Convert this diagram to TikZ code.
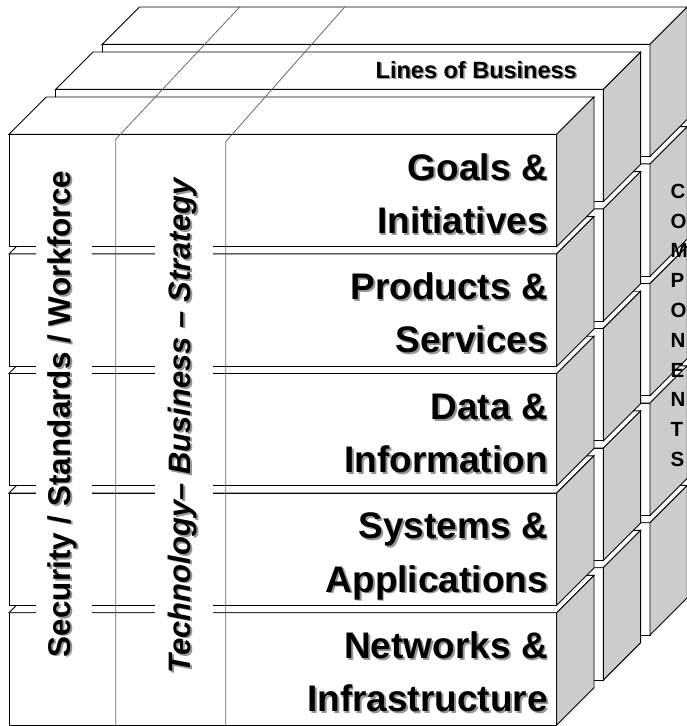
\documentclass[tikz,border=0pt]{standalone}
\usepackage{fontspec}
\setmainfont{Liberation Sans}
\definecolor{sidegray}{RGB}{204,204,204}
\definecolor{shadowgray}{RGB}{150,150,150}
\definecolor{divgray}{RGB}{105,105,105}
\def\BW{547.7}
\def\BH{112.3}
\def\BD{37.3}
\newcommand{\drawcube}[2]{%
  \filldraw[edge, fill=white] (#1,#2) rectangle ++(\BW,\BH);
  \filldraw[edge, fill=white] (#1,#2) -- ++(\BD,-\BD) -- ++(\BW,0) -- ++(-\BD,\BD) -- cycle;
  \filldraw[edge, fill=sidegray] (#1+\BW,#2) -- ++(\BD,-\BD) -- ++(0,\BH) -- ++(-\BD,\BD) -- cycle;
}
\begin{document}
\begin{tikzpicture}[x=1pt,y=-1pt,
  edge/.style={draw=black, line width=0.9pt},
  divline/.style={draw=divgray, line width=0.8pt},
  bigtxt/.style={font=\bfseries\fontsize{37}{40}\selectfont, inner sep=0pt, anchor=base east},
  lob/.style={font=\bfseries\fontsize{23.5}{26}\selectfont, inner sep=0pt, anchor=base east},
  rot/.style={rotate=90, anchor=base, inner xsep=3pt, inner ysep=0pt},
  comp/.style={font=\bfseries\fontsize{20.5}{24}\selectfont, inner sep=0pt, anchor=base west}]
\useasboundingbox (0,0) rectangle (687,726);
% cubes, back to front, bottom to top
\foreach \L in {2,1,0}{
  \foreach \k in {4,3,2,1,0}{
    \pgfmathsetmacro\xx{9+46.65*\L}
    \pgfmathsetmacro\yy{134.3-45*\L+119.6*\k}
    \drawcube{\xx}{\yy}
  }
}
% dividing lines
\draw[divline] (240,6.7) -- (115.7,139.3) -- (115.7,725);
\draw[divline] (345,6.7) -- (225.7,141.7) -- (225.7,725);
% Lines of Business
\node[lob, text=shadowgray] (lbs) at (578.5,79.5) {Lines of Business};
\node[lob] (lb) at (577,78) {Lines of Business};
% front texts
\foreach \k/\a/\b in {0/Goals \&/Initiatives, 1/Products \&/Services, 2/Data \&/Information, 3/Systems \&/Applications, 4/Networks \&/Infrastructure}{
  \pgfmathsetmacro\ty{134.3+119.6*\k+45.7}
  \pgfmathsetmacro\tz{134.3+119.6*\k+99}
  \node[bigtxt, text=shadowgray] (sa\k) at (549.8,\ty+1.8) {\a};
  \node[bigtxt, text=shadowgray] (sb\k) at (549.8,\tz+1.8) {\b};
  \node[bigtxt] (ta\k) at (548,\ty) {\a};
  \node[bigtxt] (tb\k) at (548,\tz) {\b};
}
% vertical texts
\node[rot, font=\bfseries\fontsize{31.5}{34}\selectfont, fill=white, inner ysep=13.5pt, text=shadowgray] (secs) at (72.3,415.5) {Security / Standards / Workforce};
\node[rot, font=\bfseries\fontsize{31.5}{34}\selectfont] (sec) at (70.5,414) {Security / Standards / Workforce};
\node[rot, font=\bfseries\itshape\fontsize{31}{34}\selectfont, fill=white, inner ysep=14.5pt, text=shadowgray] (tecs) at (192.3,427.5) {Technology– Business – Strategy};
\node[rot, font=\bfseries\itshape\fontsize{31}{34}\selectfont] (tec) at (190.5,426) {Technology– Business – Strategy};
% COMPONENTS
\foreach \c [count=\i from 0] in {C,O,M,P,O,N,E,N,T,S}{
  \node[comp] (c\i) at (670.5,198.3+29.8*\i) {\c};
}
\end{tikzpicture}
\end{document}
